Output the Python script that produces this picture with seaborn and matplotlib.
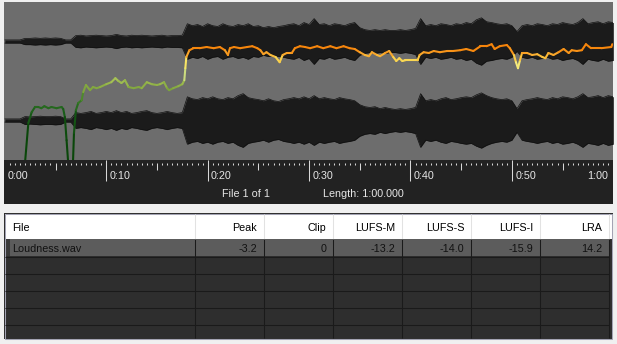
import numpy as np
import matplotlib
matplotlib.use("Agg")
import matplotlib.pyplot as plt
from matplotlib.collections import LineCollection
from matplotlib.colors import LinearSegmentedColormap, Normalize
from matplotlib.patches import Rectangle
import seaborn as sns

# ------------------------------------------------------------------ data
# waveform envelope (half amplitude, full scale = 1) sampled every 0.5 s
env_time = np.arange(0, 60.5, 0.5)
top_amp = [
    .04, .04, .04, .04, .08, .08, .09, .08, .09, .08,
    .09, .08, .04, .04, .15, .16, .14, .15, .16, .15,
    .14, .15, .18, .15, .14, .16, .15, .16, .15, .14,
    .15, .16, .14, .15, .15, .16, .45, .40, .43, .38,
    .45, .40, .38, .45, .40, .38, .43, .40, .45, .38,
    .40, .35, .38, .35, .38, .40, .43, .45, .40, .48,
    .43, .58, .43, .45, .40, .45, .43, .40, .45, .48,
    .35, .30, .28, .30, .28, .30, .28, .28, .30, .28,
    .30, .33, .58, .40, .43, .40, .45, .43, .40, .45,
    .43, .48, .45, .55, .60, .50, .48, .45, .43, .45,
    .40, .25, .40, .43, .40, .45, .43, .40, .45, .43,
    .48, .45, .43, .48, .58, .45, .48, .50, .45, .50,
    .48]
bottom_amp = [
    .04, .04, .04, .04, .10, .09, .10, .11, .10, .10,
    .11, .10, .04, .04, .20, .18, .20, .23, .18, .20,
    .23, .20, .25, .20, .23, .18, .20, .23, .25, .20,
    .18, .20, .23, .20, .18, .20, .60, .55, .53, .58,
    .55, .60, .55, .53, .58, .55, .63, .68, .58, .55,
    .53, .50, .55, .50, .48, .53, .55, .58, .55, .60,
    .55, .63, .55, .58, .55, .53, .58, .55, .53, .50,
    .40, .35, .33, .35, .30, .33, .30, .28, .30, .28,
    .30, .33, .68, .50, .53, .50, .55, .58, .53, .55,
    .58, .60, .58, .65, .70, .63, .58, .55, .53, .55,
    .50, .30, .50, .53, .55, .58, .55, .53, .58, .55,
    .60, .58, .55, .60, .68, .58, .60, .63, .58, .63,
    .60]

# momentary loudness curve (LUFS)
loud_time = [1.9, 1.99, 2.32, 2.65, 2.98, 3.3, 3.6, 3.9, 4.3, 4.6, 5.1, 5.6, 5.76, 5.92,
             6.09, 6.25, 6.45, 6.72, 6.82, 7.01, 7.24, 7.58, 7.73, 8.0, 8.4, 8.7, 9.05,
             9.4, 10.0, 10.5, 10.9, 11.2, 11.5, 11.85, 12.2, 12.7, 13.2, 13.5, 14.0, 14.5,
             15.0, 15.3, 15.7, 16.0, 16.2, 16.6, 17.1, 17.5, 17.7, 17.8, 17.9, 18.2, 18.6,
             19.2, 19.9, 20.6, 21.2, 21.7, 22.0, 22.2, 22.6, 23.2, 23.9, 24.4, 24.9, 25.2,
             25.5, 25.8, 26.2, 26.7, 27.1, 27.4, 27.8, 28.3, 28.6, 29.1, 29.6, 30.1, 30.8,
             31.4, 32.1, 32.7, 33.4, 34.0, 34.5, 35.0, 35.5, 35.9, 36.2, 36.7, 37.0, 37.5,
             37.9, 38.3, 38.6, 38.9, 39.2, 39.5, 40.2, 40.7, 40.9, 41.3, 41.8, 42.3, 42.9,
             43.6, 44.2, 44.9, 45.5, 46.2, 46.9, 47.5, 48.0, 48.3, 48.8, 49.5, 49.8, 50.2,
             50.4, 50.6, 50.8, 51.0, 51.5, 52.0, 52.5, 53.0, 53.3, 53.6, 54.1, 54.6, 55.1,
             55.6, 55.9, 56.4, 56.9, 57.3, 57.8, 58.8, 59.8, 59.9]
loud_lufs = [-46.0, -43.0, -33.0, -30.3, -29.0, -29.0, -29.3, -28.8, -29.3, -29.0, -29.3, -29.0, -29.5, -31.5,
             -37.3, -43.0, -47.0, -43.0, -35.5, -29.8, -28.0, -27.3, -25.3, -23.5, -24.8, -24.0, -24.3,
             -24.0, -23.3, -22.8, -21.8, -22.5, -23.0, -22.3, -24.0, -24.3, -24.0, -24.3, -22.8, -23.3,
             -23.5, -23.3, -22.8, -24.3, -24.8, -24.3, -23.8, -23.3, -22.3, -19.3, -16.5, -14.8, -14.3,
             -14.3, -14.0, -14.3, -14.0, -14.8, -16.0, -14.3, -14.0, -14.3, -14.0, -13.8, -14.3, -14.8,
             -15.8, -15.3, -16.0, -16.5, -17.8, -16.0, -15.5, -15.5, -14.3, -13.8, -14.0, -14.3, -13.8,
             -14.3, -13.8, -14.3, -13.8, -14.3, -14.5, -15.3, -16.0, -16.3, -15.3, -16.0, -16.3, -15.5,
             -15.0, -16.5, -17.5, -16.8, -17.5, -17.3, -17.3, -17.3, -16.0, -15.3, -15.5, -15.0, -15.3,
             -15.0, -15.0, -14.8, -14.5, -15.0, -13.8, -13.8, -13.3, -14.5, -13.8, -13.5, -14.3, -16.0,
             -17.8, -19.3, -17.3, -15.5, -15.5, -16.0, -15.8, -16.5, -16.8, -15.5, -16.0, -15.3, -14.5,
             -15.5, -14.8, -15.0, -14.8, -13.3, -14.3, -14.3, -14.0, -13.3]

ruler_secs = [0, 10, 20, 30, 40, 50, 60]
ruler_labels = ["0:00", "0:10", "0:20", "0:30", "0:40", "0:50", "1:00"]
status_file = "File 1 of 1"
status_length = "Length: 1:00.000"

columns = ["File", "Peak", "Clip", "LUFS-M", "LUFS-S", "LUFS-I", "LRA"]
row_values = ["Loudness.wav", "-3.2", "0", "-13.2", "-14.0", "-15.9", "14.2"]
n_empty_rows = 5

# ------------------------------------------------------------------ style
sns.set_theme(style="white")
plt.rcParams['font.family'] = ['Liberation Sans', 'DejaVu Sans']
FS = 7.75

W, H = 617, 344
fig = plt.figure(figsize=(W / 100, H / 100), dpi=100)
fig.patch.set_facecolor('#f0f0f0')


def px_axes(x0, y0, x1, y1, bg=None):
    ax = fig.add_axes([x0 / W, 1 - y1 / H, (x1 - x0) / W, (y1 - y0) / H])
    ax.set_axis_off()
    if bg is not None:
        ax.add_patch(Rectangle((0, 0), 1, 1, transform=ax.transAxes,
                               facecolor=bg, edgecolor='none', zorder=0))
    return ax


XLIM = (-0.08, 59.92)

# ------------------------------------------------------------------ waveform
wav = px_axes(4, 2, 612.5, 160, bg='#6d6d6d')
wav.set_xlim(*XLIM)
wav.set_ylim(-2, 2)
t = env_time
for center, amp in ((1.0, np.array(top_amp)), (-1.0, np.array(bottom_amp))):
    wav.fill_between(t, center - amp, center + amp, color='#1b1b1b', lw=0, zorder=2)
    sns.lineplot(x=t, y=center + amp, ax=wav, color='#101010', lw=0.5, zorder=3)
    sns.lineplot(x=t, y=center - amp, ax=wav, color='#101010', lw=0.5, zorder=3)
wav.set_axis_off()

# ------------------------------------------------------------------ loudness curve
lax = px_axes(4, 2, 612.5, 160)
lax.set_xlim(*XLIM)
lax.set_ylim(-42.25, -2.75)
anchors = [(-36.0, '#0a470a'), (-30.0, '#1a5f1a'), (-27.0, '#3f7f28'),
           (-24.5, '#7ea43d'), (-22.0, '#a9c456'), (-19.5, '#eef2a8'),
           (-17.8, '#f8e462'), (-16.6, '#fbc842'), (-15.6, '#f9a52a'),
           (-14.6, '#f7890e'), (-13.0, '#f47f08')]
lo, hi = anchors[0][0], anchors[-1][0]
cmap = LinearSegmentedColormap.from_list(
    'loud', [((v - lo) / (hi - lo), c) for v, c in anchors])
norm = Normalize(lo, hi)
pts = np.column_stack([loud_time, loud_lufs])
segs = np.stack([pts[:-1], pts[1:]], axis=1)
mids = (np.array(loud_lufs[:-1]) + np.array(loud_lufs[1:])) / 2
lc = LineCollection(segs, colors=cmap(norm(mids)), linewidths=1.5,
                    capstyle='round', joinstyle='round')
lax.add_collection(lc)

# ------------------------------------------------------------------ ruler
rul = px_axes(4, 160, 612.5, 203.5, bg='#222222')
rul.set_xlim(*XLIM)
rul.set_ylim(43.5, 0)
halfs = np.arange(0.5, 60, 0.5)
minor = [s for s in halfs if s % 5 != 0]
mid5 = [s for s in halfs if s % 10 == 5]
rul.vlines(minor, 2.6, 5.4, color='#d8d8d8', lw=0.75)
rul.vlines(mid5, 2.6, 9.8, color='#d8d8d8', lw=0.75)
rul.vlines(ruler_secs[1:-1], 0, 21, color='#d8d8d8', lw=0.75)
for s, lab in zip(ruler_secs, ruler_labels):
    if s == ruler_secs[-1]:
        rul.text(59.45, 19.2, lab, ha='right', va='baseline', color='#e6e6e6', fontsize=FS)
    else:
        rul.text(s + 0.32, 19.2, lab, ha='left', va='baseline', color='#e6e6e6', fontsize=FS)

fig.text(221.7 / W, 1 - 196.8 / H, status_file, ha='left', va='baseline',
         color='#e6e6e6', fontsize=FS)
fig.text(322.7 / W, 1 - 196.8 / H, status_length, ha='left', va='baseline',
         color='#e6e6e6', fontsize=FS)

# ------------------------------------------------------------------ table
tab = px_axes(0, 0, W, H)
tab.set_xlim(0, W)
tab.set_ylim(H, 0)
col_edges = [5, 194.5, 263.5, 332.5, 401.5, 470.5, 539.5, 608.5]
tab.add_patch(Rectangle((4, 213), 608.5, 126, facecolor='#2e2e2e', edgecolor='none'))
tab.add_patch(Rectangle((5, 214), 606.5, 24.5, facecolor='white', edgecolor='none'))
tab.add_patch(Rectangle((5, 238.5), 5, 17.5, facecolor='#3a3a3a', edgecolor='none'))
tab.add_patch(Rectangle((10, 238.5), col_edges[-1] - 10, 17.5, facecolor='#5c5c5c', edgecolor='none'))
row_lines = [256.5 + 17 * i for i in range(n_empty_rows)]
tab.hlines(row_lines, 5, col_edges[-1], color='#1a1a1a', lw=0.75)
tab.vlines(col_edges[1:], 214, 238.5, color='#e2e2e2', lw=0.75)
tab.vlines(col_edges[1:], 238.5, 338, color='#1a1a1a', lw=0.75)
tab.add_patch(Rectangle((4.5, 213.5), 607.5, 125, fill=False, edgecolor='#a3a3b3', lw=0.75))

for i, (name, val) in enumerate(zip(columns, row_values)):
    if i == 0:
        tab.text(12.5, 230.8, name, ha='left', va='baseline', color='black', fontsize=FS)
        tab.text(12.3, 252.2, val, ha='left', va='baseline', color='#111111', fontsize=FS)
    else:
        xr = col_edges[i + 1] - 6.3
        tab.text(xr, 230.8, name, ha='right', va='baseline', color='black', fontsize=FS)
        tab.text(xr, 252.2, val, ha='right', va='baseline', color='#111111', fontsize=FS)

fig.savefig('out.png', dpi=100, facecolor=fig.get_facecolor())
